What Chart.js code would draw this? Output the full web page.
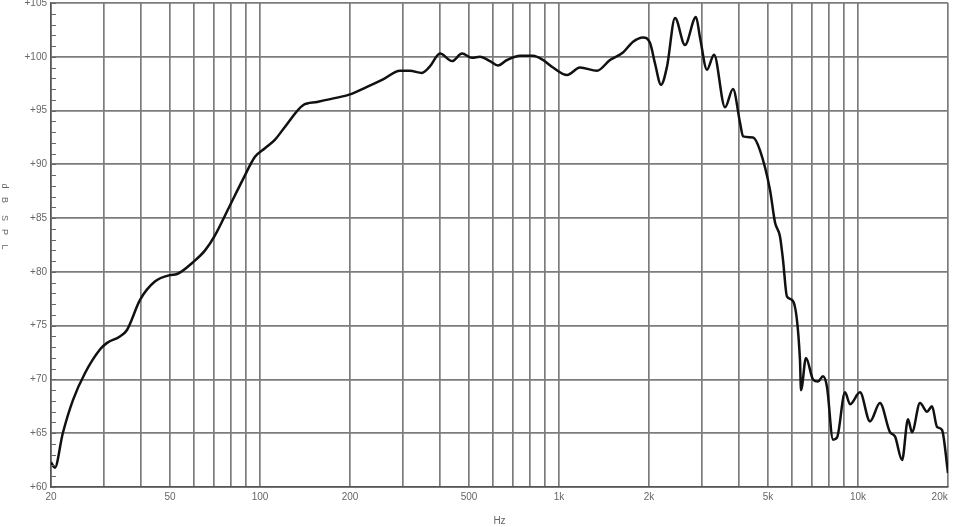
<!DOCTYPE html>
<html>
<head>
<meta charset="utf-8">
<script src="https://cdn.jsdelivr.net/npm/chart.js@4/dist/chart.umd.min.js"></script>
<style>
html,body{margin:0;padding:0;background:#fff;}
#wrap{width:953px;height:527px;position:relative;}
</style>
</head>
<body>
<div id="wrap"><canvas id="c" width="953" height="527"></canvas></div>
<script>
// Frequency (Hz) of each traced point
const freqs = [20,20.6,21.9,23.7,26.0,29.2,30.8,34.0,35.9,39.7,44.5,50.0,52.8,59.7,65.5,70.7,79.4,87.7,96.2,103.9,112.3,121.3,139.3,155.1,181,200,228,258,294,317,348,370,400,439,474,512,544,588,625,670,741,819,884,955,1064,1176,1340,1481,1637,1769,1910,2015,2094,2194,2298,2444,2638,2872,2962,3126,3300,3592,3819,4030,4126,4455,4702,5080,5278,5484,5614,5788,6061,6397,6448,6700,7072,7350,7638,7877,8250,8510,9050,9405,10156,10968,11846,12794,13296,14040,14698,15158,16122,17016,17684,18376,19100,20000];
// SPL (dB) at each traced point
const spl = [62.3,61.8,65.0,68.1,70.6,72.8,73.4,74.0,74.6,77.4,79.1,79.7,79.8,80.9,82.0,83.4,86.2,88.6,90.7,91.5,92.3,93.5,95.5,95.8,96.2,96.5,97.2,97.9,98.7,98.7,98.5,99.1,100.3,99.6,100.3,99.9,100.0,99.6,99.2,99.7,100.1,100.1,99.7,99.0,98.3,99.0,98.7,99.7,100.4,101.4,101.8,101.3,99.4,97.4,99.1,103.6,101.1,103.7,101.8,98.8,100.2,95.3,97.0,93.9,92.6,92.5,91.3,87.6,84.6,83.3,81.1,77.7,77.3,71.8,69.0,72.0,70.0,69.8,70.3,69.3,64.4,64.6,68.8,67.7,68.8,66.1,67.8,65.1,64.7,62.5,66.3,65.1,67.8,67.0,67.5,65.6,65.3,61.3];

// Vertical grid line frequencies
const gridFreqs = [20,30,40,50,60,70,80,90,100,200,300,400,500,600,700,800,900,1000,2000,3000,4000,5000,6000,7000,8000,9000,10000,20000];
// Labelled frequencies and their texts
const labelFreqs = [20,50,100,200,500,1000,2000,5000,10000,20000];
const labelTexts = ['20','50','100','200','500','1k','2k','5k','10k','20k      '];
// Y tick values and labels
const yTicks = [60,65,70,75,80,85,90,95,100,105];
const yTickLabels = ['+60','+65','+70','+75','+80','+85','+90','+95','+100','+105'];
// Y axis title letters (stacked vertically)
const yTitleLetters = ['d','B','S','P','L'];

const points = freqs.map((f,i)=>({x:f,y:spl[i]}));

const FONT = '"Liberation Sans", Arial, sans-serif';
const TXT = '#666';

const extras = {
  id:'extras',
  afterDraw(chart){
    const ctx = chart.ctx, y = chart.scales.y, a = chart.chartArea;
    ctx.save();
    ctx.strokeStyle = '#666';
    ctx.lineWidth = 1;
    for(let v=60; v<=105; v++){
      const py = Math.round(y.getPixelForValue(v))+0.5;
      ctx.beginPath();
      ctx.moveTo(a.left, py);
      ctx.lineTo(a.left+5, py);
      ctx.stroke();
    }
    // y axis title, letters rotated, reading top to bottom
    const ys = [186,200,218,232,247];
    ctx.fillStyle = TXT;
    ctx.font = '9px ' + FONT;
    ctx.textAlign = 'center';
    ctx.textBaseline = 'middle';
    yTitleLetters.forEach((ch,i)=>{
      ctx.save();
      ctx.translate(4, ys[i]);
      ctx.rotate(Math.PI/2);
      ctx.fillText(ch, 0, 0);
      ctx.restore();
    });
    ctx.restore();
  }
};

new Chart(document.getElementById('c'), {
  type:'line',
  data:{
    datasets:[{
      data: points,
      borderColor:'#111',
      borderWidth:2.5,
      pointRadius:0,
      fill:false,
      cubicInterpolationMode:'monotone'
    }]
  },
  options:{
    responsive:false,
    animation:false,
    layout:{padding:{left:0,right:5,top:3,bottom:0}},
    plugins:{legend:{display:false},tooltip:{enabled:false}},
    scales:{
      x:{
        type:'logarithmic',
        min:20, max:20000,
        afterBuildTicks(s){ s.ticks = gridFreqs.map(v=>({value:v})); },
        afterFit(s){ s.height = 40; s.paddingLeft = 0; s.paddingRight = 0; },
        ticks:{
          autoSkip:false, maxRotation:0, minRotation:0,
          color:TXT, font:{family:FONT,size:10}, padding:4,
          callback(v){ const i = labelFreqs.indexOf(v); return i>=0 ? labelTexts[i] : ''; }
        },
        grid:{color:'#7c7c7c', lineWidth:1.7, drawTicks:false},
        border:{display:true,color:'#555',width:1.5},
        title:{display:true,text:'Hz',color:TXT,font:{family:FONT,size:10},padding:{top:3,bottom:0}}
      },
      y:{
        type:'linear',
        min:60, max:105,
        afterBuildTicks(s){ s.ticks = yTicks.map(v=>({value:v})); },
        afterFit(s){ s.width = 51; s.paddingTop = 0; s.paddingBottom = 0; },
        ticks:{
          color:TXT, font:{family:FONT,size:10}, padding:4,
          callback(v){ const i = yTicks.indexOf(v); return i>=0 ? yTickLabels[i] : ''; }
        },
        grid:{color:'#7c7c7c', lineWidth:1.7, drawTicks:false},
        border:{display:true,color:'#555',width:1.5}
      }
    }
  },
  plugins:[extras]
});
</script>
</body>
</html>
